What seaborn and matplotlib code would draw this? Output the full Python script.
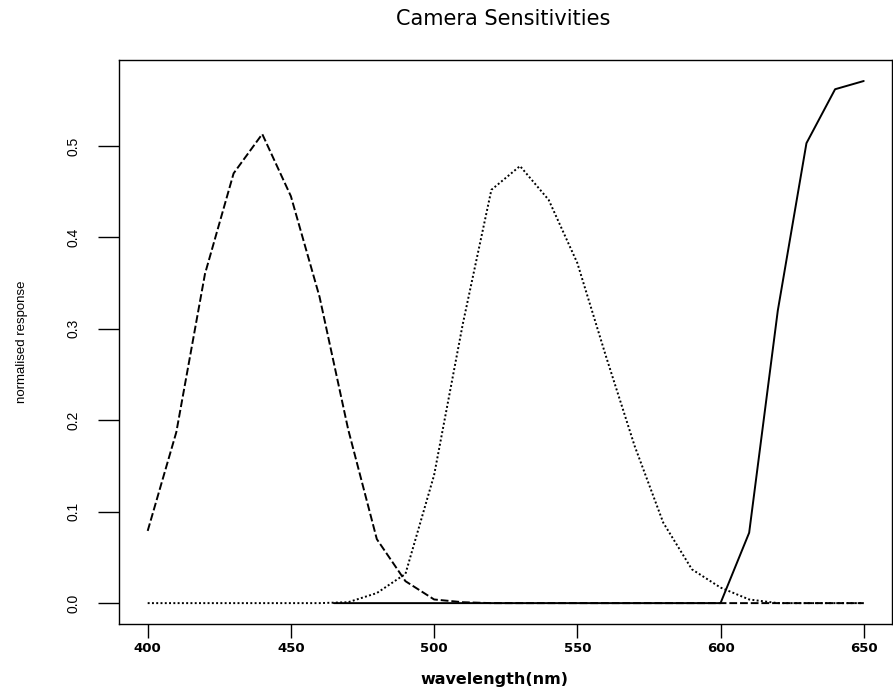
import matplotlib
matplotlib.use("Agg")
import matplotlib.pyplot as plt
import seaborn as sns
import pandas as pd

# Data
wl_blue = [400, 410, 420, 430, 440, 450, 460, 470, 480, 490, 500, 510, 520, 530, 540, 550, 560, 570, 580, 590, 600, 610, 620, 630, 640, 650]
blue = [0.079, 0.187, 0.36, 0.470, 0.513, 0.445, 0.335, 0.19, 0.070, 0.024, 0.004, 0.001, 0.0, 0.0, 0.0, 0.0, 0.0, 0.0, 0.0, 0.0, 0.0, 0.0, 0.0, 0.0, 0.0, 0.0]

wl_green = [400, 410, 420, 430, 440, 450, 460, 470, 480, 490, 500, 510, 520, 530, 540, 550, 560, 570, 580, 590, 600, 610, 620, 630, 640, 650]
green = [0.0, 0.0, 0.0, 0.0, 0.0, 0.0, 0.0, 0.001, 0.011, 0.032, 0.14, 0.305, 0.452, 0.478, 0.441, 0.372, 0.27, 0.172, 0.088, 0.037, 0.017, 0.004, 0.0, 0.0, 0.0, 0.0]

wl_red = [465, 470, 480, 490, 500, 510, 520, 530, 540, 550, 560, 570, 580, 590, 600, 610, 620, 630, 640, 650]
red = [0.0, 0.0, 0.0, 0.0, 0.0, 0.0, 0.0, 0.0, 0.0, 0.0, 0.0, 0.0, 0.0, 0.0, 0.0, 0.077, 0.32, 0.503, 0.562, 0.571]

x_ticks = [400, 450, 500, 550, 600, 650]
y_ticks = [0.0, 0.1, 0.2, 0.3, 0.4, 0.5]
y_tick_labels = ["0.0", "0.1", "0.2", "0.3", "0.4", "0.5"]

df = pd.concat([
    pd.DataFrame({"wavelength": wl_blue, "response": blue, "channel": "blue"}),
    pd.DataFrame({"wavelength": wl_green, "response": green, "channel": "green"}),
    pd.DataFrame({"wavelength": wl_red, "response": red, "channel": "red"}),
], ignore_index=True)

sns.set_theme(style="ticks")
plt.rcParams["font.family"] = ["Liberation Sans", "DejaVu Sans"]
plt.rcParams["text.color"] = "black"
plt.rcParams["axes.labelcolor"] = "black"
plt.rcParams["xtick.color"] = "black"
plt.rcParams["ytick.color"] = "black"

fig = plt.figure(figsize=(8.93, 6.91), dpi=100)
ax = fig.add_axes([0.1333, 0.097, 0.866, 0.8162])

sns.lineplot(data=df, x="wavelength", y="response", style="channel",
             dashes={"blue": (4, 1.5), "green": (1, 1.2), "red": ""},
             color="black", linewidth=1.4, legend=False, ax=ax, estimator=None)

ax.set_xlim(390, 660)
ax.set_ylim(-0.0228, 0.594)
ax.set_xticks(x_ticks)
ax.set_xticklabels([str(t) for t in x_ticks], fontsize=9.5, fontweight="bold",
                   family=["DejaVu Sans"])
ax.set_yticks(y_ticks)
ax.set_yticklabels(y_tick_labels, rotation=90, va="center", fontsize=10)
ax.tick_params(axis="x", direction="out", length=10, width=1.0, pad=3)
ax.tick_params(axis="y", direction="out", length=15, width=1.0, pad=13)
for s in ax.spines.values():
    s.set_visible(True)
    s.set_color("black")
    s.set_linewidth(1.0)

ax.set_xlabel("wavelength(nm)", fontsize=11.5, fontweight="bold",
              family=["DejaVu Sans"])
ax.xaxis.set_label_coords(0.485, -0.085)
ax.set_ylabel("normalised response", fontsize=9.5)
ax.yaxis.set_label_coords(-0.118, 0.5)
fig.text(0.563, 0.972, "Camera Sensitivities", ha="center", va="center",
         fontsize=15, family=["DejaVu Sans"])

fig.savefig("out.png", dpi=100, facecolor="white")
